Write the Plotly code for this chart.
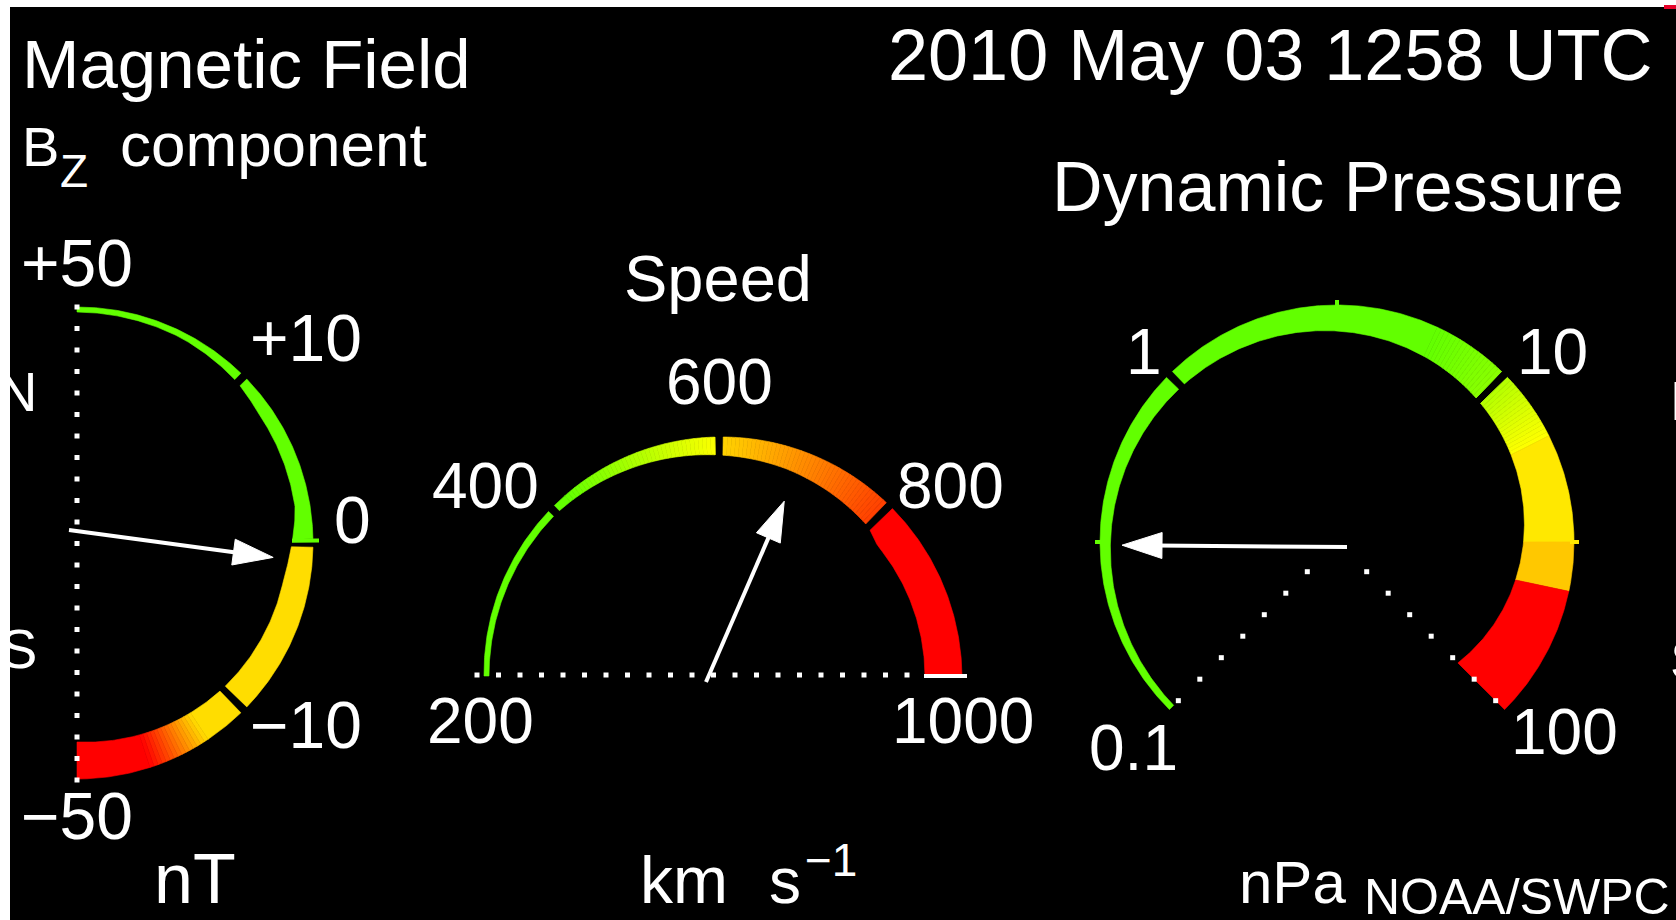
import numpy as np
import plotly.graph_objects as go

# ---------------------------------------------------------------- data
timestamp = "2010 May 03 1258 UTC"

bz_tick_values = [50, 10, 0, -10, -50]
bz_tick_labels = ["+50", "+10", "0", "\u221210", "\u221250"]
bz_value = -1.7            # nT

speed_tick_values = [200, 400, 600, 800, 1000]
speed_tick_labels = ["200", "400", "600", "800", "1000"]
speed_value = 704          # km/s

pdyn_tick_values = [0.1, 1, 10, 100]
pdyn_tick_labels = ["0.1", "1", "10", "100"]
pdyn_value = 0.32          # nPa

# colour zones: (value from, value to, colour at start, colour at end)
GREEN = (98, 255, 0)
LIME = (140, 255, 0)
YELLOW_GREEN = (175, 255, 0)
YELLOW = (255, 255, 0)
GOLD = (255, 232, 0)
BZ_YELLOW = (255, 221, 0)
AMBER = (255, 214, 0)
RED_ORANGE = (255, 60, 0)
ORANGE = (255, 200, 0)
RED = (255, 0, 0)

bz_zones = [(50, 0, GREEN, GREEN), (0, -20, BZ_YELLOW, BZ_YELLOW),
            (-20, -34, BZ_YELLOW, RED), (-34, -50, RED, RED)]
speed_zones = [(200, 420, GREEN, GREEN), (420, 600, GREEN, YELLOW),
               (600, 800, AMBER, RED_ORANGE), (800, 1000, RED, RED)]
pdyn_zones = [(0.1, 6, GREEN, GREEN), (6, 10, GREEN, LIME),
              (10, 16, YELLOW_GREEN, YELLOW), (16, 31.6, GOLD, GOLD),
              (31.6, 43, ORANGE, ORANGE), (43, 100, RED, RED)]

# ---------------------------------------------------------------- scales
def bz_angle(v):
    return np.interp(v, [-50, -10, 0, 10, 50], [-90, -45, 0, 45, 90])


def speed_angle(v):
    return 180.0 - 180.0 * (np.asarray(v, dtype=float) - 200.0) / 800.0


def pdyn_angle(v):
    return 225.0 - 90.0 * (np.log10(v) + 1.0)


def bz_width(a):
    f = (90.0 - np.asarray(a)) / 180.0
    return np.interp(f, [0, 0.15, 0.25, 0.3, 0.45, 0.5, 0.55, 0.75, 1.0],
                     [5, 6, 9, 13, 15, 21, 26, 30, 37])


def speed_width(a):
    f = (180.0 - np.asarray(a)) / 180.0
    return np.interp(f, [0, 0.25, 0.5, 0.6, 0.75, 0.78, 1.0],
                     [5, 7, 18, 22, 30, 36, 37])


def pdyn_width(a):
    s = 225.0 - np.asarray(a)
    return 6 + 0.074 * s + 0.000549 * s ** 2


def flat_outer(r):
    return lambda a: np.full(np.shape(a), float(r))


def speed_outer(a):
    f = (180.0 - np.asarray(a, dtype=float)) / 180.0
    return 235.0 + 8.0 * f


gauges = {
    "bz": dict(cx=77, cy=543, r=236, outer=flat_outer(236),
               angle=bz_angle, width=bz_width),
    "speed": dict(cx=719, cy=676, r=237, outer=speed_outer,
                  angle=speed_angle, width=speed_width),
    "pdyn": dict(cx=1337, cy=542, r=237, outer=flat_outer(237),
                 angle=pdyn_angle, width=pdyn_width),
}

W, H = 1676, 920
FONT = "Liberation Sans, Arial, sans-serif"

fig = go.Figure()


def rgb(c):
    return "rgb(%d,%d,%d)" % tuple(int(round(x)) for x in c)


def mix(c0, c1, t):
    return tuple(a + (b - a) * t for a, b in zip(c0, c1))


def cut_gaps(s, e, gap_angles, h):
    pieces = [(s, e)]
    for ga in gap_angles:
        hi, lo = ga + h, ga - h
        out = []
        for ps, pe in pieces:
            if pe >= hi or ps <= lo:
                out.append((ps, pe))
                continue
            if ps > hi:
                out.append((ps, hi))
            if pe < lo:
                out.append((lo, pe))
        pieces = out
    return pieces


def add_piece(g, s, e, color):
    a = np.linspace(s, e, max(2, int(abs(s - e) / 0.5) + 2))
    w = g["width"](a)
    ro = g["outer"](a)
    ri = ro - w
    rad = np.radians(a)
    xo = g["cx"] + ro * np.cos(rad)
    yo = g["cy"] - ro * np.sin(rad)
    xi = g["cx"] + ri * np.cos(rad)
    yi = g["cy"] - ri * np.sin(rad)
    x = np.concatenate([xo, xi[::-1], xo[:1]])
    y = np.concatenate([yo, yi[::-1], yo[:1]])
    fig.add_trace(go.Scatter(x=x, y=y, mode="lines", fill="toself",
                             fillcolor=rgb(color),
                             line=dict(color=rgb(color), width=0.6),
                             hoverinfo="skip", showlegend=False))


def add_zones(g, zones, gap_values, gap_px=8.0):
    gap_angles = [float(g["angle"](v)) for v in gap_values]
    h = np.degrees(gap_px / 2.0 / (g["r"] - 10))
    for v0, v1, c0, c1 in zones:
        a0, a1 = float(g["angle"](v0)), float(g["angle"](v1))
        n = max(1, int(abs(a0 - a1) / 1.0)) if c0 != c1 else 1
        edges = np.linspace(a0, a1, n + 1)
        for i in range(n):
            col = mix(c0, c1, (i + 0.5) / n)
            for ps, pe in cut_gaps(edges[i], edges[i + 1], gap_angles, h):
                add_piece(g, ps, pe, col)


def add_radial(g, a, r0, r1, color, lw=4):
    rad = np.radians(a)
    fig.add_trace(go.Scatter(
        x=[g["cx"] + r0 * np.cos(rad), g["cx"] + r1 * np.cos(rad)],
        y=[g["cy"] - r0 * np.sin(rad), g["cy"] - r1 * np.sin(rad)],
        mode="lines", line=dict(color=rgb(color), width=lw),
        hoverinfo="skip", showlegend=False))


def add_dots(x, y, size=5):
    fig.add_trace(go.Scatter(x=x, y=y, mode="markers",
                             marker=dict(symbol="square", size=size,
                                         color="white", line=dict(width=0)),
                             hoverinfo="skip", showlegend=False))


def add_needle(g, value, offset, length, lw=4, head_len=40, head_half=13):
    a = np.radians(float(g["angle"](value)))
    ux, uy = np.cos(a), -np.sin(a)
    tx, ty = g["cx"] + offset[0], g["cy"] + offset[1]
    px, py = tx + length * ux, ty + length * uy
    bx, by = px - (head_len - 6) * ux, py - (head_len - 6) * uy
    fig.add_trace(go.Scatter(x=[tx, bx], y=[ty, by], mode="lines",
                             line=dict(color="white", width=lw),
                             hoverinfo="skip", showlegend=False))
    hx, hy = px - head_len * ux, py - head_len * uy
    nx, ny = -uy, ux
    fig.add_trace(go.Scatter(
        x=[px, hx + head_half * nx, hx - head_half * nx, px],
        y=[py, hy + head_half * ny, hy - head_half * ny, py],
        mode="lines", fill="toself", fillcolor="white",
        line=dict(color="white", width=1), hoverinfo="skip", showlegend=False))


# ---------------------------------------------------------------- Bz gauge
g = gauges["bz"]
add_zones(g, bz_zones, [10, 0, -10])
add_radial(g, 0.6, g["r"] - 21, g["r"] + 6, GREEN)
add_dots(np.full(23, g["cx"]), g["cy"] - g["r"] + 21.5 * np.arange(23), size=5)
add_needle(g, bz_value, (-8, -13), 206)

# ---------------------------------------------------------------- speed gauge
g = gauges["speed"]
add_zones(g, speed_zones, [400, 600, 800])
end_r = float(g["outer"](0.0))
add_radial(g, 0, end_r - 38, end_r + 5, (255, 255, 255))
xs = np.arange(g["cx"] - 242, g["cx"] + 205, 21.5)
add_dots(xs, np.full(len(xs), g["cy"] - 1), size=5)
add_needle(g, speed_value, (-13, 6), 197, lw=4)

# ---------------------------------------------------------------- pressure gauge
g = gauges["pdyn"]
add_zones(g, pdyn_zones, [1, 10])
for v, c in [(10 ** -0.5, GREEN), (10 ** 0.5, GREEN), (10 ** 1.5, GOLD)]:
    add_radial(g, float(g["angle"](v)), g["r"] - 4, g["r"] + 5, c)
rr = np.arange(42, 228, 30.4)
for end_v in (0.1, 100):
    a = np.radians(float(g["angle"](end_v)))
    add_dots(g["cx"] + rr * np.cos(a), g["cy"] - rr * np.sin(a), size=5)
add_needle(g, pdyn_value, (10, 5), 225, lw=4)

# ---------------------------------------------------------------- text
def label(text, x, baseline, size, anchor="left", family=FONT):
    fig.add_annotation(x=x, y=baseline - 0.3465 * size, text=text,
                       xanchor=anchor, yanchor="middle", showarrow=False,
                       xref="x", yref="y", borderpad=0,
                       font=dict(size=size, color="white", family=family))


label("Magnetic Field", 21, 88, 69)
label("B", 21, 166, 56)
label("Z", 59, 187, 46)
label("component", 119, 166, 62)
label(timestamp, 1653, 80, 72, "right")
label("Dynamic Pressure", 1625, 211, 70, "right")
label("Speed", 718, 301, 65, "center")

# tick labels (Bz, speed, pressure)
bz_label_pos = [(20, 286, "left"), (249, 361, "left"), (333, 543, "left"),
                (249, 748, "left"), (20, 839, "left")]
for t, (x, b, anc) in zip(bz_tick_labels, bz_label_pos):
    label(t, x, b, 66, anc)
speed_label_pos = [(426, 743, "left"), (431, 508, "left"), (719, 404, "center"),
                   (896, 508, "left"), (891, 743, "left")]
for t, (x, b, anc) in zip(speed_tick_labels, speed_label_pos):
    label(t, x, b, 64, anc)
pdyn_label_pos = [(1088, 770, "left"), (1163, 374, "right"), (1516, 374, "left"),
                  (1510, 754, "left")]
for t, (x, b, anc) in zip(pdyn_tick_labels, pdyn_label_pos):
    label(t, x, b, 64, anc)

label("N", 38, 411, 56, "right")
label("S", 38, 668, 56, "right")
label("N", 1669, 420, 56)
label("S", 1669, 679, 56)

label("nT", 153, 903, 70)
label("km", 639, 903, 66)
label("s", 768, 903, 64)
label("\u22121", 804, 876, 46)
label("nPa", 1238, 903, 60)
label("NOAA/SWPC", 1363, 914, 50)

# ---------------------------------------------------------------- layout
fig.update_layout(
    width=W, height=H, margin=dict(l=0, r=0, t=0, b=0),
    paper_bgcolor="white", plot_bgcolor="white", showlegend=False,
    xaxis=dict(range=[0, W], visible=False, fixedrange=True),
    yaxis=dict(range=[H, 0], visible=False, fixedrange=True),
    shapes=[
        dict(type="rect", xref="x", yref="y", x0=10, y0=7, x1=W, y1=H,
             fillcolor="black", line=dict(width=0), layer="below"),
        dict(type="rect", xref="x", yref="y", x0=1664, y0=5, x1=W, y1=9,
             fillcolor="rgb(230,0,40)", line=dict(width=0), layer="below"),
    ],
)

fig.write_html("out.html")
